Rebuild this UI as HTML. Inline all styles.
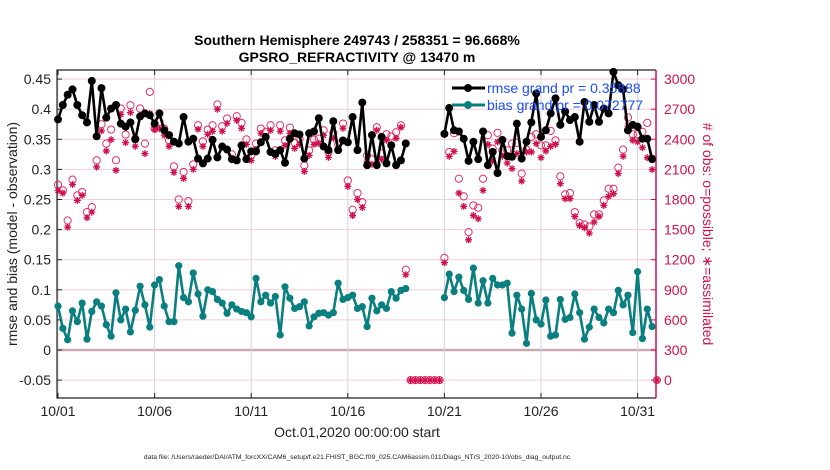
<!DOCTYPE html>
<html><head><meta charset="utf-8"><style>
body{margin:0;background:#fff;}
svg{display:block;font-family:"Liberation Sans",sans-serif;}
</style></head><body>
<svg id="chart" width="830" height="470" viewBox="0 0 830 470" xmlns="http://www.w3.org/2000/svg">
<rect width="830" height="470" fill="#fff"/>
<text x="357" y="45" text-anchor="middle" font-size="14" font-weight="bold">Southern Hemisphere 249743 / 258351 = 96.668%</text>
<text x="357" y="62" text-anchor="middle" font-size="14" font-weight="bold">GPSRO_REFRACTIVITY @ 13470 m</text>
<g id="grid"></g>
<g id="axes"></g>
<g id="series"></g>
<text transform="translate(17,234) rotate(-90)" text-anchor="middle" font-size="14" fill="#222">rmse and bias (model - observation)</text>
<text transform="translate(703,234) rotate(90)" text-anchor="middle" font-size="14" fill="#d0104c"># of obs: o=possible; ∗=assimilated</text>
<text x="357" y="437" text-anchor="middle" font-size="14" fill="#222">Oct.01,2020 00:00:00 start</text>
<text x="357" y="459" text-anchor="middle" font-size="6.8" fill="#222">data file: /Users/raeder/DAI/ATM_forcXX/CAM6_setup/f.e21.FHIST_BGC.f09_025.CAM6assim.011/Diags_NTrS_2020-10/obs_diag_output.nc</text>
<g id="legend">
<line x1="452" y1="88" x2="485" y2="88" stroke="#000" stroke-width="3"/><circle cx="468" cy="88" r="4" fill="#000"/>
<text x="487" y="93" font-size="14" fill="#1a4cff">rmse grand pr = 0.35888</text>
<line x1="452" y1="105" x2="485" y2="105" stroke="#0a7f7f" stroke-width="3"/><circle cx="468" cy="105" r="4" fill="#0a7f7f"/>
<text x="487" y="110" font-size="14" fill="#1a4cff">bias grand pr = 0.072777</text>
</g>
</svg>
<script>
const N=null;
const rmse=[.383,.407,.424,.433,.407,.390,.378,.447,.355,.435,.386,.401,.407,.376,.371,.378,.350,.388,.393,.390,.376,.393,
.365,.357,.346,.343,.387,.346,.351,.318,.310,.318,.349,.320,.338,.333,.317,.315,.340,.317,.330,.330,.345,.354,
.329,.326,.332,.311,.351,.360,.358,.318,.360,.363,.385,.338,.332,.380,.332,.348,.345,.387,.332,.411,
.307,.357,.307,.354,.310,.340,.307,.315,.343,
N,N,N,N,N,N,N,
.359,.402,.365,.363,.351,.314,.346,.317,.363,.307,.329,.294,.349,.322,.321,.376,.318,.346,.378,.426,.354,.365,.393,.418,
.374,.396,.382,.387,.346,.412,.379,.407,.379,.401,.393,.462,.440,.433,.365,.374,.371,.351,.351,.317,N];
const bias=[.073,.036,.017,.065,.047,.078,.018,.064,.080,.073,.042,.023,.095,.050,.068,.030,.066,.106,.075,.038,.108,.117,
.073,.047,.047,.140,.087,.080,.128,.093,.056,.100,.097,.084,.078,.061,.075,.068,.064,.062,.055,.119,
.080,.091,.078,.089,.025,.105,.086,.069,.072,.080,.040,.055,.061,.062,.058,.062,.111,.084,.087,.091,.069,
.072,.039,.086,.065,.075,.069,.097,.086,.099,.102,
N,N,N,N,N,N,N,
.087,.126,.097,
.121,.099,.084,.136,.078,.115,.078,.119,.108,.108,.111,.028,.091,.068,.011,.094,.050,.043,.083,.023,.025,.084,
.051,.054,.093,.062,.018,.038,.068,.054,.045,.068,.062,.099,.075,.091,.029,.130,.019,.068,.039,N];
const possible=[1948,1891,1591,1998,1841,1874,1674,1724,2191,2550,2357,2497,2191,2707,2447,2740,2407,2707,2357,2873,2507,2574,
2507,2390,2130,1800,2074,1784,2150,2540,2380,2497,2540,2747,2530,2607,2250,2630,2564,2400,2240,
2357,2507,2474,2540,2290,2540,2390,2517,2364,2407,2140,2290,2397,2407,2490,2274,2464,2350,2557,1990,1698,1864,1774,
2240,2200,2520,2260,2450,2430,2470,2540,1100,
0,0,0,0,0,0,0,
1218,2274,2460,
2007,1831,1475,1741,1718,2007,2441,2307,2464,2290,2290,2357,2364,2058,2297,2424,2450,2340,2340,2484,2390,
2031,1851,1864,1674,1565,1551,1531,1651,1651,1791,1908,1908,2118,2297,2617,2450,2450,2474,2564,2207,0];
const assim=[1891,1864,1525,1951,1791,1841,1618,1674,2124,2484,2284,2397,2091,2647,2367,2667,2331,2624,2257,2657,2497,2507,
2440,2330,2070,1730,2010,1730,2100,2500,2330,2450,2480,2700,2480,2560,2210,2590,2510,2350,2190,
2300,2460,2420,2490,2230,2480,2340,2460,2310,2350,2080,2240,2350,2360,2440,2220,2410,2300,2510,1930,1640,1800,1720,
2180,2150,2490,2200,2390,2350,2410,2520,1050,
0,0,0,0,0,0,0,
1170,2230,2280,
1864,1731,1398,1641,1608,1891,2350,2184,2374,2231,2164,2108,2257,1984,2274,2274,2357,2217,2284,2330,2350,
1958,1808,1808,1631,1541,1518,1465,1575,1631,1741,1831,1858,2058,2231,2530,2390,2374,2317,2217,2098,0];
const leftTicks=[-0.05,0,0.05,0.1,0.15,0.2,0.25,0.3,0.35,0.4,0.45];
const leftTickLabels=["-0.05","0","0.05","0.1","0.15","0.2","0.25","0.3","0.35","0.4","0.45"];
const rightTicks=[0,300,600,900,1200,1500,1800,2100,2400,2700,3000];
const xTicks=[0,5,10,15,20,25,30];
const xTickLabels=["10/01","10/06","10/11","10/16","10/21","10/26","10/31"];

const L=57,R=656,T=70,B=398;
const X=d=>L+1+d*19.32;
const Y=v=>350-v*602;
const YR=c=>Y(c/6000-0.05);
const ns="http://www.w3.org/2000/svg";
function mk(p,tag,a){const e=document.createElementNS(ns,tag);for(const k in a)e.setAttribute(k,a[k]);p.appendChild(e);return e;}
const grid=document.getElementById('grid'),axes=document.getElementById('axes'),ser=document.getElementById('series');
leftTicks.forEach((v,i)=>{
 const g=mk(grid,'line',{x1:L,x2:R,y1:Y(v),y2:Y(v),stroke:v===0?'#c9a9b2':'#f2cddb','stroke-width':v===0?2.5:1});
 
 
 const t=mk(axes,'text',{x:L-6,y:Y(v)+5,'text-anchor':'end','font-size':14,fill:'#222'});
 
 
 t.textContent=leftTickLabels[i];
 mk(axes,'line',{x1:L,x2:L+5,y1:Y(v),y2:Y(v),stroke:'#222'});
});
rightTicks.forEach(c=>{
 const t=mk(axes,'text',{x:R+8,y:YR(c)+5,'font-size':14,fill:'#d0104c'});
 
 
 t.textContent=c;
 mk(axes,'line',{x1:R-5,x2:R,y1:YR(c),y2:YR(c),stroke:'#d0104c'});
});
xTicks.forEach((d,i)=>{
 const g=mk(grid,'line',{x1:X(d),x2:X(d),y1:T,y2:B,stroke:'#d4d4d4','stroke-width':1});
 
 
 mk(axes,'line',{x1:X(d),x2:X(d),y1:T,y2:T+5,stroke:'#222'});
 mk(axes,'line',{x1:X(d),x2:X(d),y1:B,y2:B-5,stroke:'#222'});
 const t=mk(axes,'text',{x:X(d),y:416,'text-anchor':'middle','font-size':14,fill:'#222'});
 
 
 t.textContent=xTickLabels[i];
});
mk(axes,'path',{d:`M${R} ${T}H${L}V${B}H${R}`,fill:'none',stroke:'#222','stroke-width':1.2});
mk(axes,'line',{x1:R,x2:R,y1:T,y2:B,stroke:'#d0104c','stroke-width':1.5});
possible.forEach((c,i)=>{
 const e=mk(ser,'circle',{cx:X(i/4),cy:YR(c),r:3.6,fill:'none',stroke:'#e0306a','stroke-width':1});
 
 
});
assim.forEach((c,i)=>{
 const x=X(i/4),y=YR(c),s=3.5;
 const e=mk(ser,'path',{d:`M${x-s} ${y}H${x+s}M${x} ${y-s}V${y+s}M${x-s*.7} ${y-s*.7}L${x+s*.7} ${y+s*.7}M${x-s*.7} ${y+s*.7}L${x+s*.7} ${y-s*.7}`,stroke:'#d0104c','stroke-width':1.3});
 
 
});
function line(arr,color,name,r){
 let d='',pen=false;
 arr.forEach((v,i)=>{if(v===null){pen=false;return;}d+=(pen?'L':'M')+X(i/4).toFixed(1)+' '+Y(v).toFixed(1);pen=true;});
 const p=mk(ser,'path',{d:d,fill:'none',stroke:color,'stroke-width':2.6,'stroke-linejoin':'round'});
 
 
 arr.forEach((v,i)=>{if(v===null)return;
  const c=mk(ser,'circle',{cx:X(i/4),cy:Y(v),r:r,fill:color});
  
  
 });
}
line(bias,'#0a7f7f','bias',3.6);
line(rmse,'#000','rmse',4);
</script>
</body></html>
